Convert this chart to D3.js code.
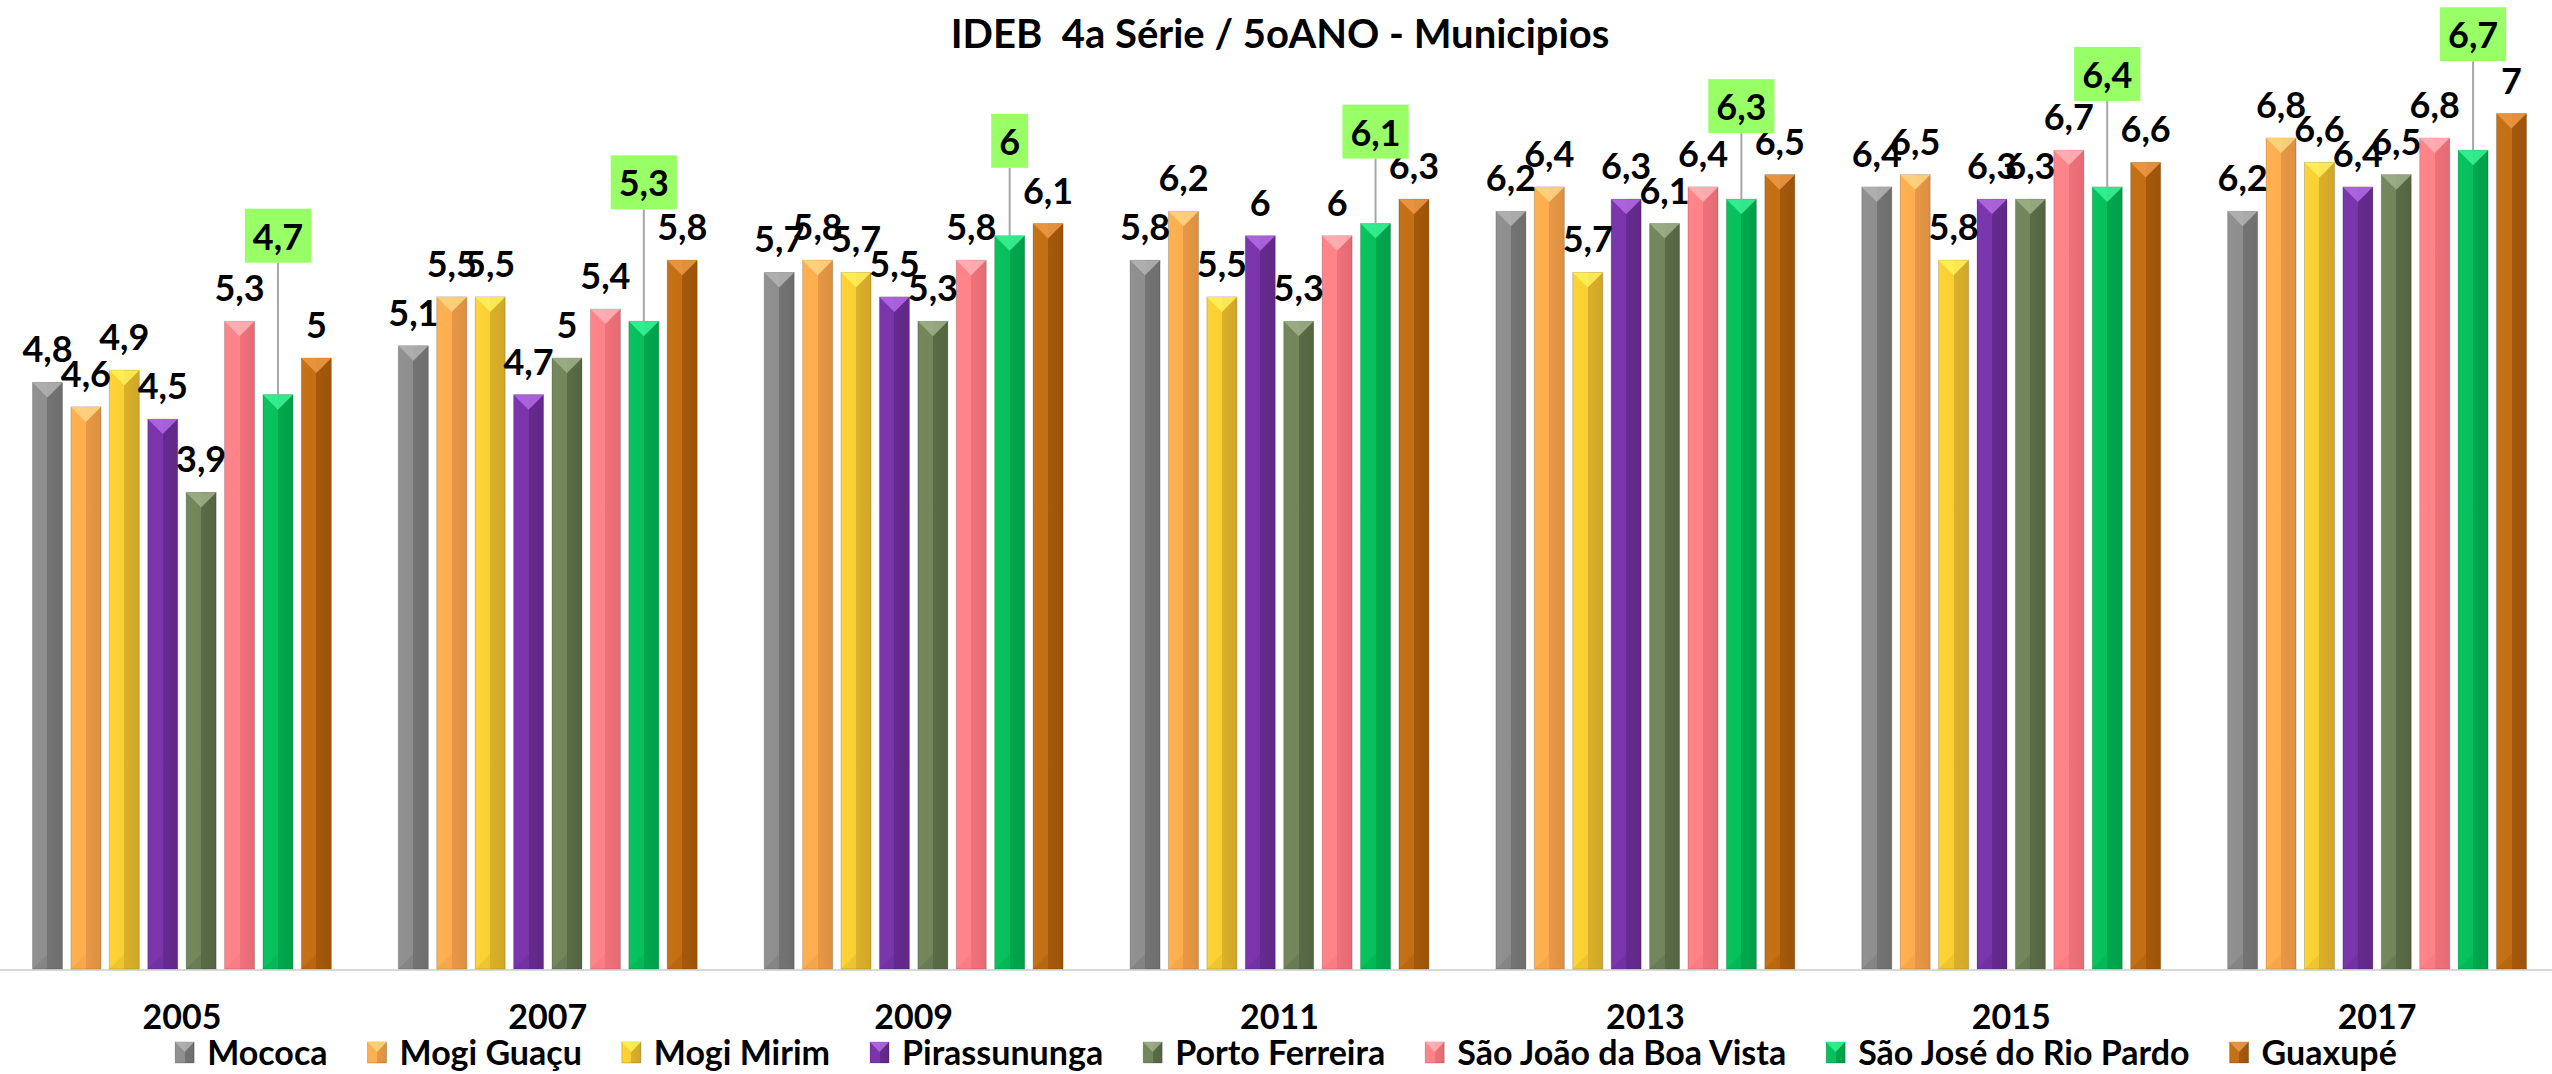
<!DOCTYPE html>
<html>
<head>
<meta charset="utf-8">
<script src="https://cdn.jsdelivr.net/npm/d3@7"></script>
<style>
  body { margin: 0; background: #fff; }
  text { font-family: Lato, "Open Sans", sans-serif; font-weight: bold; fill: #000; }
</style>
</head>
<body>
<svg id="chart"></svg>
<script>
// Data
const years = ["2005", "2007", "2009", "2011", "2013", "2015", "2017"];
const cities = ["Mococa", "Mogi Guaçu", "Mogi Mirim", "Pirassununga", "Porto Ferreira",
                "São João da Boa Vista", "São José do Rio Pardo", "Guaxupé"];
const mococa        = [4.8, 5.1, 5.7, 5.8, 6.2, 6.4, 6.2];
const mogiGuacu     = [4.6, 5.5, 5.8, 6.2, 6.4, 6.5, 6.8];
const mogiMirim     = [4.9, 5.5, 5.7, 5.5, 5.7, 5.8, 6.6];
const pirassununga  = [4.5, 4.7, 5.5, 6.0, 6.3, 6.3, 6.4];
const portoFerreira = [3.9, 5.0, 5.3, 5.3, 6.1, 6.3, 6.5];
const saoJoao       = [5.3, 5.4, 5.8, 6.0, 6.4, 6.7, 6.8];
const saoJose       = [4.7, 5.3, 6.0, 6.1, 6.3, 6.4, 6.7];
const guaxupe       = [5.0, 5.8, 6.1, 6.3, 6.5, 6.6, 7.0];
const highlighted = "São José do Rio Pardo";

const seriesValues = [mococa, mogiGuacu, mogiMirim, pirassununga, portoFerreira, saoJoao, saoJose, guaxupe];

// colours: [left face, right face, top bevel]
const colors = {
  "Mococa":                ["#8e8e8e", "#747474", "#b4b4b4"],
  "Mogi Guaçu":            ["#fdae4f", "#e89845", "#ffd684"],
  "Mogi Mirim":            ["#f9cf34", "#dbb02a", "#fff25a"],
  "Pirassununga":          ["#7a35aa", "#652a8e", "#b46ae6"],
  "Porto Ferreira":        ["#72855b", "#5a6b47", "#a0b28a"],
  "São João da Boa Vista": ["#ff8389", "#f0717a", "#ffb4b8"],
  "São José do Rio Pardo": ["#07c05c", "#00a84d", "#3af596"],
  "Guaxupé":               ["#c26f15", "#a5590b", "#ee9a46"]
};

// how far above its bar each highlighted callout box sits (px)
const calloutLift = [132, 112, 68, 65, 66, 86, 89];

const width = 2552, height = 1074;
const svg = d3.select("#chart").attr("width", width).attr("height", height);

const table = [];
years.forEach((yr, i) => {
  cities.forEach((c, j) => table.push({year: yr, city: c, value: seriesValues[j][i], yi: i}));
});

const x0 = d3.scaleBand().domain(years).range([-1, 2560]).paddingInner(0).paddingOuter(0);
const x1 = d3.scaleBand().domain(cities).range([0, x0.bandwidth()]).paddingInner(0.219).paddingOuter(0.872);
const y = d3.scaleLinear().domain([0, 7]).range([969, 969 - 7 * 122.2]);

const fmt = v => String(v).replace(".", ",");

// gradients
const defs = svg.append("defs");
cities.forEach((c, j) => {
  const g = defs.append("linearGradient").attr("id", "grad" + j)
      .attr("x1", "0%").attr("x2", "100%").attr("y1", "0%").attr("y2", "0%");
  g.append("stop").attr("offset", "0%").attr("stop-color", d3.color(colors[c][0]).brighter(0.05));
  g.append("stop").attr("offset", "50%").attr("stop-color", colors[c][0]);
  g.append("stop").attr("offset", "50%").attr("stop-color", colors[c][1]);
  g.append("stop").attr("offset", "100%").attr("stop-color", d3.color(colors[c][1]).darker(0.15));
});

// Title
svg.append("text")
  .attr("x", 1280).attr("y", 48)
  .attr("text-anchor", "middle")
  .style("font-size", "40px")
  .style("white-space", "pre")
  .text("IDEB  4a Série / 5oANO - Municipios");

// Axis line
svg.append("line")
  .attr("x1", 0).attr("x2", width)
  .attr("y1", y(0) + 1).attr("y2", y(0) + 1)
  .attr("stroke", "#d9d9d9").attr("stroke-width", 2);

// Bars
const bars = svg.append("g").attr("class", "bars")
  .selectAll("g.bar")
  .data(table)
  .join("g")
  .attr("class", "bar")
  .attr("transform", d => `translate(${x0(d.year) + x1(d.city)},0)`);

const bw = x1.bandwidth();

bars.append("rect")
  .attr("x", 0).attr("y", d => y(d.value))
  .attr("width", bw).attr("height", d => y(0) - y(d.value))
  .attr("fill", d => `url(#grad${cities.indexOf(d.city)})`)
  .attr("stroke", "rgba(0,0,0,0.18)").attr("stroke-width", 1);

bars.append("path")
  .attr("d", d => `M0,${y(d.value)}L${bw},${y(d.value)}L${bw / 2},${y(d.value) + bw / 2}Z`)
  .attr("fill", d => colors[d.city][2]).attr("opacity", 0.85);

bars.append("path")
  .attr("d", d => `M0,${y(0)}L${bw},${y(0)}L${bw / 2},${y(0) - bw / 2}Z`)
  .attr("fill", d => colors[d.city][1]).attr("opacity", 0.35);

// Data labels
const plain = table.filter(d => d.city !== highlighted);
svg.append("g").selectAll("text")
  .data(plain)
  .join("text")
  .attr("x", d => x0(d.year) + x1(d.city) + bw / 2)
  .attr("y", d => y(d.value) - 20)
  .attr("text-anchor", "middle")
  .style("font-size", "36px")
  .text(d => fmt(d.value));

// Callouts for highlighted series
const hl = table.filter(d => d.city === highlighted);
const callouts = svg.append("g").selectAll("g")
  .data(hl)
  .join("g");

callouts.each(function(d) {
  const g = d3.select(this);
  const cx = x0(d.year) + x1(d.city) + bw / 2;
  const boxBottom = y(d.value) - calloutLift[d.yi];
  g.append("line")
    .attr("x1", cx).attr("x2", cx)
    .attr("y1", boxBottom).attr("y2", y(d.value))
    .attr("stroke", "#a6a6a6").attr("stroke-width", 2);
  const rect = g.append("rect").attr("fill", "#99ff66");
  const t = g.append("text")
    .attr("x", cx).attr("y", boxBottom - 13)
    .attr("text-anchor", "middle")
    .style("font-size", "36px")
    .text(fmt(d.value));
  const tw = t.node().getComputedTextLength();
  rect.attr("x", cx - tw / 2 - 8).attr("width", tw + 16)
    .attr("y", boxBottom - 54).attr("height", 54);
});

// Year labels
svg.append("g").selectAll("text")
  .data(years)
  .join("text")
  .attr("x", d => x0(d) + x0.bandwidth() / 2)
  .attr("y", 1029)
  .attr("text-anchor", "middle")
  .style("font-size", "34px")
  .text(d => d);

// Legend
const legend = svg.append("g").attr("class", "legend");
let lx = 0;
cities.forEach((c, j) => {
  const item = legend.append("g").attr("transform", `translate(${lx},0)`);
  item.append("rect").attr("x", 0).attr("y", 1042).attr("width", 19).attr("height", 21)
    .attr("fill", `url(#grad${j})`).attr("stroke", "rgba(0,0,0,0.2)");
  item.append("path").attr("d", "M0,1042L19,1042L9.5,1052Z").attr("fill", colors[c][2]).attr("opacity", 0.85);
  const t = item.append("text").attr("x", 32).attr("y", 1065)
    .style("font-size", "34px").text(c);
  lx += 32 + t.node().getComputedTextLength() + 40;
});
const legendWidth = lx - 40;
legend.attr("transform", `translate(${1286 - legendWidth / 2},0)`);
</script>
</body>
</html>
